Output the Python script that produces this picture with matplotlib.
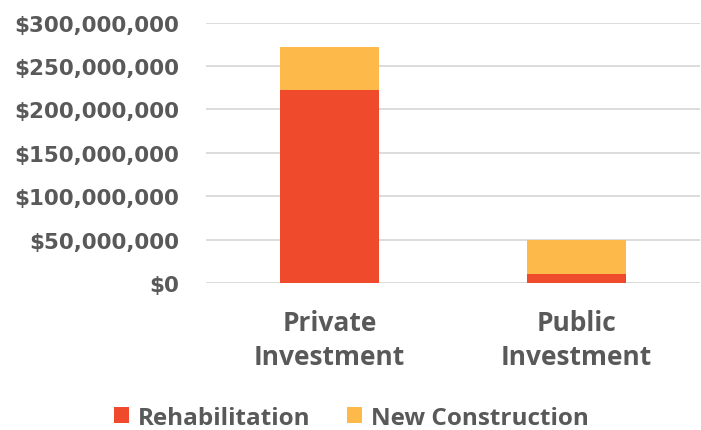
import matplotlib.pyplot as plt
from matplotlib.ticker import FuncFormatter

categories = ["Private\nInvestment", "Public\nInvestment"]
rehabilitation = [222_500_000, 10_400_000]
new_construction = [49_500_000, 39_100_000]
series_names = ["Rehabilitation", "New Construction"]

COL_REHAB = "#EF4A2B"
COL_NEW = "#FDBA4B"
TXT = "#595959"

plt.rcParams["font.family"] = ["Open Sans", "DejaVu Sans"]

fig = plt.figure(figsize=(7.01, 4.31), dpi=100)
ax = fig.add_axes([0.294, 0.341, 0.704, 0.604])

x = range(len(categories))
ax.bar(x, rehabilitation, width=0.4, color=COL_REHAB, label=series_names[0], zorder=3)
ax.bar(x, new_construction, width=0.4, bottom=rehabilitation, color=COL_NEW,
       label=series_names[1], zorder=3)

ax.set_ylim(0, 300_000_000)
ax.set_xlim(-0.5, 1.5)
ax.set_yticks(range(0, 300_000_001, 50_000_000))
ax.yaxis.set_major_formatter(FuncFormatter(lambda v, p: f"${v:,.0f}"))
ax.grid(axis="y", color="#D9D9D9", linewidth=1.3, zorder=0)
for s in ax.spines.values():
    s.set_visible(False)
ax.tick_params(axis="y", length=0, pad=19.4, labelsize=15.4, labelcolor=TXT)
ax.tick_params(axis="x", length=0, pad=19, labelsize=19, labelcolor=TXT)
for t in ax.get_yticklabels():
    t.set_fontweight("bold")
    t.set_family("DejaVu Sans")
ax.set_xticks(list(x))
ax.set_xticklabels(categories, fontweight="bold", linespacing=1.33)

leg = fig.legend(loc="center", bbox_to_anchor=(0.501, 0.029), ncol=2, frameon=False,
                 prop={"size": 17.5, "weight": "bold"}, handlelength=0.62, handleheight=0.62,
                 handletextpad=0.36, columnspacing=1.52)
for t in leg.get_texts():
    t.set_color(TXT)

fig.savefig("out.png", dpi=100, facecolor="white")
